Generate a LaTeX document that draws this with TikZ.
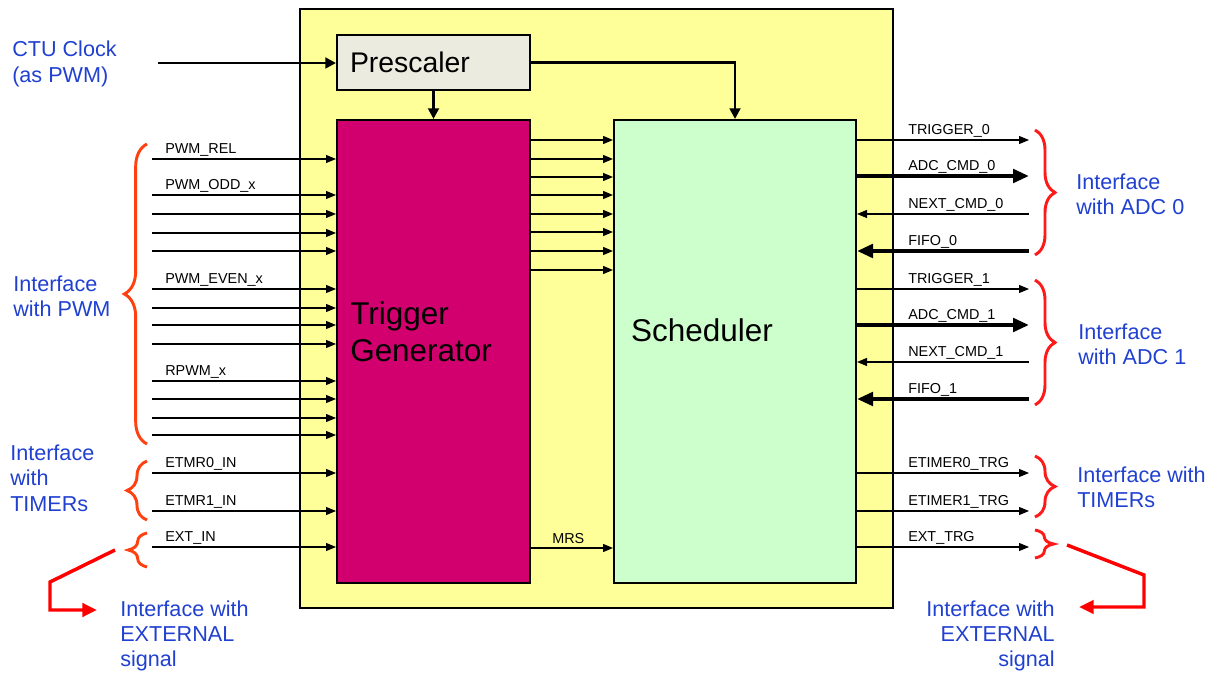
\documentclass[tikz,border=0pt]{standalone}
\usepackage{fontspec}
\setmainfont{Liberation Sans}
\usetikzlibrary{arrows.meta,decorations.pathreplacing}

\definecolor{boxyellow}{HTML}{FFFF99}
\definecolor{trigmag}{HTML}{D2006E}
\definecolor{schgreen}{HTML}{CCFFCC}
\definecolor{prebeige}{HTML}{ECEBE0}
\definecolor{ifblue}{HTML}{2040D0}
\definecolor{braceorange}{HTML}{FF4010}
\definecolor{bracered}{HTML}{FF1A1A}

\begin{document}
\begin{tikzpicture}[x=0.75pt,y=-0.75pt,
  block/.style={draw=black, line width=1.5pt, inner sep=0pt},
  thinsig/.style={draw=black, line width=0.8pt, -{Triangle[length=7.5pt,width=6pt]}},
  thicksig/.style={draw=black, line width=3pt, -{Triangle[length=12pt,width=10pt]}},
  clksig/.style={draw=black, line width=2.2pt, -{Triangle[length=8pt,width=8pt]}},
  wirelbl/.style={anchor=base west, inner sep=0pt, font=\fontsize{10.8}{12}\selectfont},
  iftext/.style={text=ifblue, inner sep=0pt, font=\fontsize{16.2}{19}\selectfont},
  ifbrace/.style={decorate, decoration={brace, amplitude=#1}, line width=2.2pt},
  redarrow/.style={draw=red, line width=2.6pt, -{Triangle[length=11pt,width=10pt]}}
]
\useasboundingbox (0,0) rectangle (1211,673);

% ------------------------------------------------------------------
% Wires, given as: \inwire{name}{y}{label}, \outwire{name}{y}{label}{style}
% and \backwire{name}{y}{label}{style} (pointing into the scheduler).
% ------------------------------------------------------------------
\newcommand{\inwire}[3]{%
  \coordinate (#1) at (152,#2);
  \draw[thinsig] (#1) -- (#1 -| tg.west);
  \node[wirelbl] (#1lbl) at (165,#2-5.5) {#3};
}
\newcommand{\outwire}[4]{%
  \coordinate (#1) at (1029,#2);
  \draw[#4] (#1 -| sch.east) -- (#1);
  \node[wirelbl] (#1lbl) at (908,#2-5.5) {#3};
}
\newcommand{\backwire}[4]{%
  \coordinate (#1) at (1029,#2);
  \draw[#4] (#1) -- (#1 -| sch.east);
  \node[wirelbl] (#1lbl) at (908,#2-5.5) {#3};
}

% Outer CTU frame.
\filldraw[fill=boxyellow, draw=black, line width=1.8pt] (300,9) rectangle (893,608);

% Blocks.
\node[block, fill=prebeige, minimum height=41.25pt, text width=125.25pt,
      inner xsep=9.75pt, align=left, font=\fontsize{21.3}{24}\selectfont]
  (pre) at (433.5,62.5) {Prescaler};
\node[block, fill=trigmag, minimum width=144.75pt, minimum height=347.25pt] (tg) at (433.5,351.5) {};
\node[block, fill=schgreen, minimum width=181.5pt, minimum height=347.25pt] (sch) at (735,351.5) {};
\node[anchor=west, align=left, inner sep=0pt, font=\fontsize{23.6}{27.75}\selectfont]
  (tgtxt) at (350,331.5) {Trigger\\Generator};
\node[inner sep=0pt, font=\fontsize{23.6}{27.75}\selectfont] (schtxt) at (702,330) {Scheduler};

% Clock path.
\coordinate (clk) at (158,63);
\draw[clksig] (clk) -- (clk -| pre.west);
\draw[clksig] (pre.south) -- (tg.north);
\draw[clksig] (pre.east) -| (sch.north);

% Trigger generator to scheduler.
\foreach \yy in {140,159,177,195,214,232,251,270}
  \draw[thinsig, line width=1pt] (tg.east |- 0,\yy) -- (sch.west |- 0,\yy);
\draw[thinsig, line width=1pt] (tg.east |- 0,548) -- (sch.west |- 0,548);
\node[wirelbl] (mrs) at (552,543) {MRS};

% Inputs from PWM, timers and external.
\inwire{pwmrel}{159}{PWM\_REL}
\inwire{pwmodd}{195}{PWM\_ODD\_x}
\inwire{pwmeven}{289}{PWM\_EVEN\_x}
\inwire{rpwm}{381}{RPWM\_x}
\inwire{etmrzero}{473}{ETMR0\_IN}
\inwire{etmrone}{511}{ETMR1\_IN}
\inwire{extin}{547}{EXT\_IN}
\foreach \yy in {214,233,251,308,325,344,399,418,435}
  \draw[thinsig] (152,\yy) -- (152,\yy -| tg.west);

% Outputs to ADCs, timers and external.
\outwire{trigzero}{140}{TRIGGER\_0}{thinsig}
\outwire{adczero}{176}{ADC\_CMD\_0}{thicksig}
\backwire{nextzero}{214}{NEXT\_CMD\_0}{thinsig}
\backwire{fifozero}{251}{FIFO\_0}{thicksig}
\outwire{trigone}{289}{TRIGGER\_1}{thinsig}
\outwire{adcone}{325}{ADC\_CMD\_1}{thicksig}
\backwire{nextone}{362}{NEXT\_CMD\_1}{thinsig}
\backwire{fifoone}{399}{FIFO\_1}{thicksig}
\outwire{etrgzero}{473}{ETIMER0\_TRG}{thinsig}
\outwire{etrgone}{511}{ETIMER1\_TRG}{thinsig}
\outwire{exttrg}{547}{EXT\_TRG}{thinsig}

% Braces.
\draw[braceorange, ifbrace=17pt] (147,444) -- (147,144);
\draw[braceorange, ifbrace=15pt] (147,520) -- (147,461);
\draw[braceorange, ifbrace=14pt] (147,567) -- (147,533);
\draw[bracered, ifbrace=15pt] (1035,130) -- (1035,255);
\draw[bracered, ifbrace=15pt] (1035,280) -- (1035,405);
\draw[bracered, ifbrace=15pt] (1035,456) -- (1035,517);
\draw[bracered, ifbrace=14pt] (1035,530) -- (1035,558);

% Interface captions.
\node[iftext, anchor=west, align=left] (clktxt) at (12,64) {CTU Clock\\(as PWM)};
\node[iftext, anchor=west, align=left] (pwmif) at (13,296) {Interface\\with PWM};
\node[iftext, anchor=west, align=left] (tmrifL) at (10,478) {Interface\\with\\TIMERs};
\node[iftext, anchor=west, align=left] (extifL) at (120,636) {Interface with\\EXTERNAL\\signal};
\node[iftext, anchor=west, align=left] (adczeroif) at (1076,194) {Interface\\with ADC 0};
\node[iftext, anchor=west, align=left] (adconeif) at (1078,344) {Interface\\with ADC 1};
\node[iftext, anchor=west, align=left] (tmrifR) at (1077,487) {Interface with\\TIMERs};
\node[iftext, anchor=east, align=right] (extifR) at (1055,636) {Interface with\\EXTERNAL\\signal};

% Red pointers to the external captions.
\coordinate (extLfrom) at (115,550);
\coordinate (extLto) at (97,610);
\draw[redarrow] (extLfrom) -- (50,582) |- (extLto);
\coordinate (extRfrom) at (1067,545);
\coordinate (extRto) at (1079,607);
\draw[redarrow] (extRfrom) -- (1144,575) |- (extRto);

\end{tikzpicture}
\end{document}
